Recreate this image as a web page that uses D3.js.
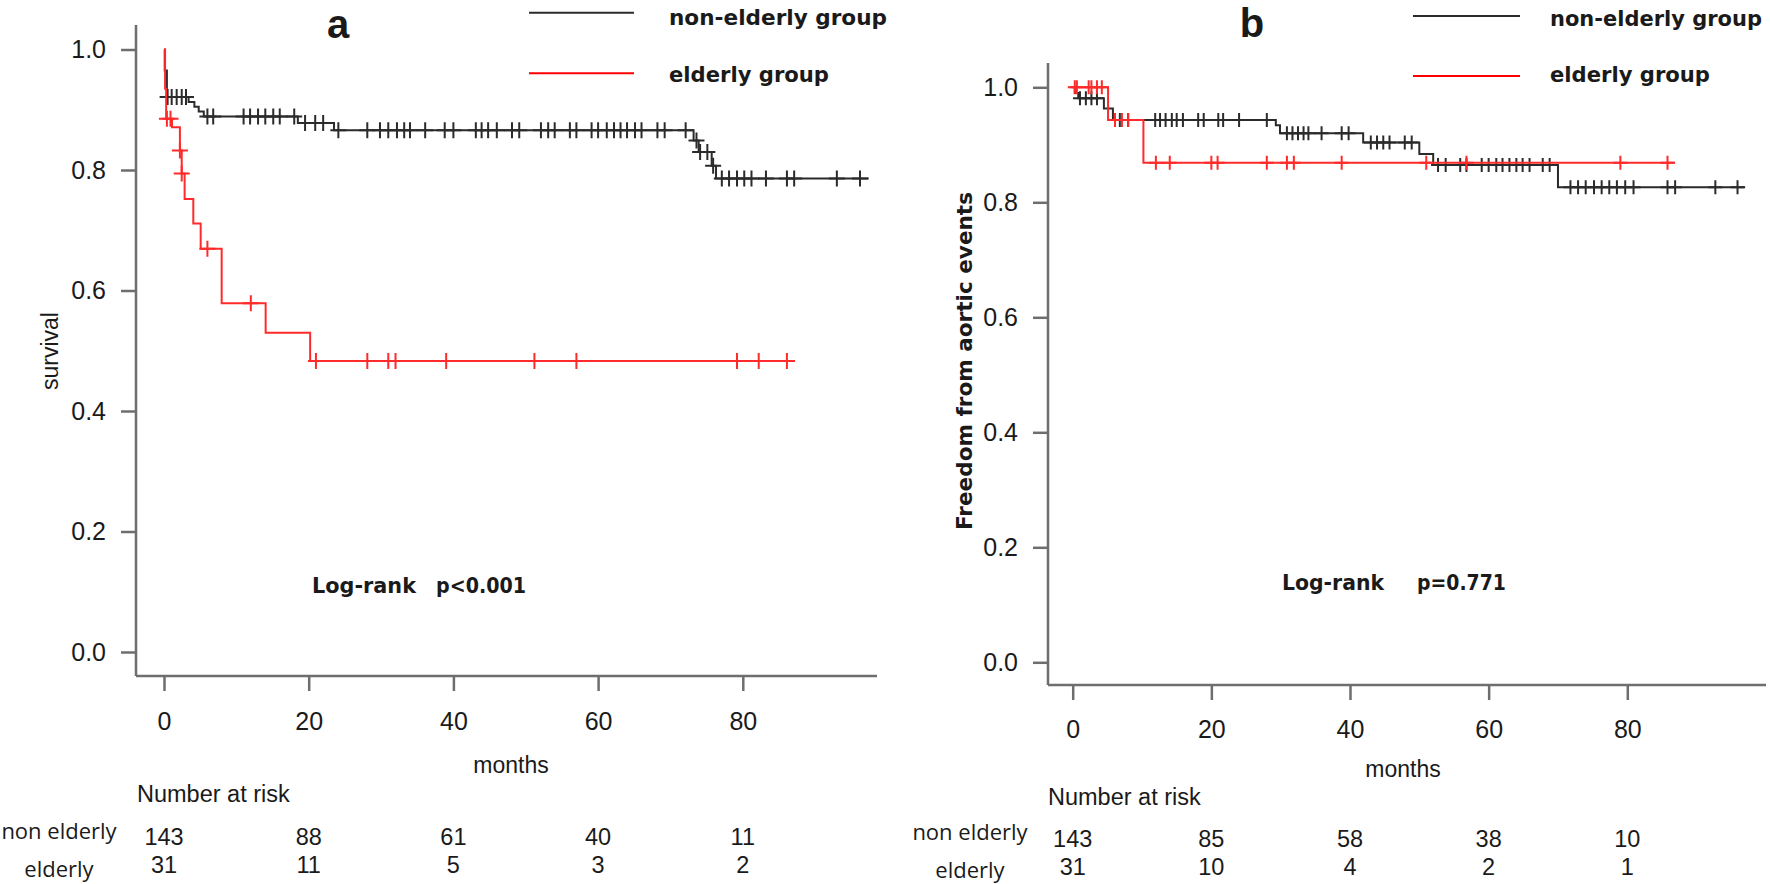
<!DOCTYPE html>
<html>
<head>
<meta charset="utf-8">
<script src="https://cdn.jsdelivr.net/npm/d3@7"></script>
<style>
html, body { margin: 0; padding: 0; background: #fff; }
svg { display: block; }
text { font-family: "Liberation Sans", Arial, sans-serif; fill: #1a1a1a; }
.heavy { font-family: "DejaVu Sans", Verdana, sans-serif; font-weight: bold; }
.rowlab { font-family: "Open Sans", sans-serif; }
</style>
</head>
<body>
<div id="chart"></div>
<script>
// ---- data ----
var xTicks = [0, 20, 40, 60, 80];
var yTicks = [0, 0.2, 0.4, 0.6, 0.8, 1.0];
var riskTimes = [0, 20, 40, 60, 80];
var groupNames = ["non-elderly group", "elderly group"];
var rowNames = ["non elderly", "elderly"];

// panel a : survival
var aNonTimes = [0, 0.1, 0.4, 3.4, 4.2, 4.8, 5.5, 18.5, 23.5, 73.2, 73.9, 75.7, 76.3];
var aNonSurv  = [1.0, 0.965, 0.921, 0.913, 0.905, 0.897, 0.889, 0.878, 0.866, 0.849, 0.830, 0.807, 0.786];
var aNonCens  = [0.5, 1.06, 1.75, 2.45, 3.04, 6.0, 6.8, 11.0, 11.9, 13.0, 14.0, 15.1, 16.0, 18.0, 19.5,
                 20.9, 22.0, 24.1, 28.1, 29.85, 31.0, 32.2, 33.2, 34.0, 36.1, 38.8, 40.0, 43.1, 43.9,
                 44.8, 46.0, 48.1, 49.1, 52.1, 53.1, 54.0, 56.1, 57.0, 59.1, 60.0, 61.2, 62.2, 63.1,
                 64.0, 65.1, 66.0, 68.2, 69.2, 72.1, 73.6, 74.1, 75.1, 75.9, 77.1, 78.1, 79.2, 80.2,
                 81.2, 83.2, 86.1, 87.1, 93.0, 96.2];
var aNonEnd = 97.4;

var aEldTimes = [0, 0.15, 0.3, 1.1, 2.2, 2.45, 2.85, 4.05, 5.07, 7.97, 14.05, 20.2];
var aEldSurv  = [1.0, 0.935, 0.885, 0.871, 0.8325, 0.794, 0.752, 0.711, 0.6695, 0.579, 0.530, 0.483];
var aEldCens  = [0.4, 0.9, 2.2, 2.45, 6.0, 12.0, 21.0, 28.1, 31.0, 32.0, 39.0, 51.2, 57.0, 79.2, 82.2, 86.1];
var aEldEnd = 87.2;

var aRiskNon = [143, 88, 61, 40, 11];
var aRiskEld = [31, 11, 5, 3, 2];

// panel b : freedom from aortic events
var bNonTimes = [0, 0.3, 0.8, 4.5, 5.8, 29.3, 29.9, 41.9, 50.0, 52.0, 70.0];
var bNonSurv  = [1.0, 0.99, 0.981, 0.963, 0.943, 0.934, 0.920, 0.904, 0.884, 0.865, 0.826];
var bNonCens  = [1.05, 1.9, 2.7, 3.5, 6.8, 8.0, 11.9, 12.6, 13.4, 14.3, 15.0, 15.9, 18.1, 18.9, 21.0,
                 21.7, 24.0, 28.0, 30.9, 31.7, 32.5, 33.3, 34.0, 35.9, 38.8, 39.8, 43.0, 43.9, 44.8,
                 45.7, 47.9, 48.9, 52.7, 53.8, 55.9, 56.8, 59.0, 60.0, 61.1, 62.0, 63.0, 64.0, 64.9,
                 65.9, 67.8, 68.8, 71.8, 72.9, 74.0, 75.2, 76.3, 77.4, 78.5, 79.7, 80.9, 85.8, 86.9,
                 92.7, 95.9];
var bNonEnd = 97.0;

var bEldTimes = [0, 5.1, 10.2];
var bEldSurv  = [1.0, 0.943, 0.869];
var bEldCens  = [0.3, 0.6, 2.3, 2.7, 3.5, 4.2, 6.1, 7.1, 8.0, 12.0, 14.0, 20.0, 20.9, 28.0, 30.9,
                 31.9, 38.8, 51.0, 56.8, 79.0, 85.8];
var bEldEnd = 86.9;

var bRiskNon = [143, 85, 58, 38, 10];
var bRiskEld = [31, 10, 4, 2, 1];

// ---- drawing ----
var W = 1770, H = 884;
var svg = d3.select("#chart").append("svg").attr("width", W).attr("height", H);

var axisColor = "#6e6e6e", blackCol = "#2b2b2b", redCol = "#ff2a2a";

function levelAt(times, surv, t) {
    var i = d3.bisectRight(times, t) - 1;
    return surv[Math.max(i, 0)];
}

function drawPanel(p) {
    var g = svg.append("g");
    var x = p.x, y = p.y;

    // axis lines
    g.append("line").attr("x1", p.axX).attr("x2", p.axX).attr("y1", p.axTop).attr("y2", p.axY)
        .attr("stroke", axisColor).attr("stroke-width", 2.5);
    g.append("line").attr("x1", p.axX).attr("x2", p.axRight).attr("y1", p.axY).attr("y2", p.axY)
        .attr("stroke", axisColor).attr("stroke-width", 2.5);

    var yAxis = g.append("g").attr("transform", "translate(" + p.axX + ",0)")
        .call(d3.axisLeft(y).tickValues(yTicks).tickFormat(d3.format(".1f")).tickSize(15).tickPadding(15));
    yAxis.select(".domain").remove();
    yAxis.attr("font-size", null).attr("font-family", null);
    yAxis.selectAll("line").attr("stroke", axisColor).attr("stroke-width", 2.5);
    yAxis.selectAll("text").style("font-size", "25px").attr("fill", "#1a1a1a");

    var xAxis = g.append("g").attr("transform", "translate(0," + p.axY + ")")
        .call(d3.axisBottom(x).tickValues(xTicks).tickSize(15));
    xAxis.select(".domain").remove();
    xAxis.attr("font-size", null).attr("font-family", null);
    xAxis.selectAll("line").attr("stroke", axisColor).attr("stroke-width", 2.5);
    xAxis.selectAll("text").attr("y", p.xLabDy).attr("dy", 0)
        .style("font-size", "25px").attr("fill", "#1a1a1a");

    // curves
    var line = d3.line().curve(d3.curveStepAfter).x(d => x(d[0])).y(d => y(d[1]));
    p.series.forEach(function (s) {
        var pts = s.times.map((t, i) => [t, s.surv[i]]);
        pts.push([s.end, s.surv[s.surv.length - 1]]);
        g.append("path").datum(pts).attr("d", line)
            .attr("fill", "none").attr("stroke", s.color).attr("stroke-width", 2);
        g.append("g").selectAll("path").data(s.cens).enter().append("path")
            .attr("d", function (t) {
                var cx = x(t), cy = y(levelAt(s.times, s.surv, t)), h = p.mark;
                return "M" + (cx - h) + "," + cy + "H" + (cx + h) + "M" + cx + "," + (cy - h) + "V" + (cy + h);
            })
            .attr("fill", "none").attr("stroke", s.color).attr("stroke-width", 2);
    });

    // titles
    g.append("text").attr("x", p.letterX).attr("y", p.letterY).attr("text-anchor", "middle")
        .style("font-size", "40px").style("font-weight", "bold").text(p.letter);

    var yt = g.append("text").attr("transform", "translate(" + p.yTitleX + "," + p.yTitleY + ") rotate(-90)")
        .attr("text-anchor", "middle").text(p.yTitle);
    if (p.yTitleBold) {
        yt.attr("class", "heavy").style("font-size", "21.5px")
            .attr("textLength", p.yTitleLen).attr("lengthAdjust", "spacingAndGlyphs");
    } else {
        yt.style("font-size", "23px");
    }

    g.append("text").attr("x", p.monthsX).attr("y", p.monthsY).attr("text-anchor", "middle")
        .style("font-size", "23px").text("months");

    // legend
    var legCols = [blackCol, "#ff0000"];
    groupNames.forEach(function (name, i) {
        g.append("line").attr("x1", p.legLineX[0]).attr("x2", p.legLineX[1])
            .attr("y1", p.legLineY[i]).attr("y2", p.legLineY[i])
            .attr("stroke", legCols[i]).attr("stroke-width", 2);
        g.append("text").attr("class", "heavy").attr("x", p.legTextX).attr("y", p.legTextY[i])
            .style("font-size", "21px").attr("textLength", p.legTextLen[i])
            .attr("lengthAdjust", "spacingAndGlyphs").text(name);
    });

    // log-rank
    g.append("text").attr("class", "heavy").attr("x", p.lrX[0]).attr("y", p.lrY)
        .style("font-size", "22px").attr("textLength", p.lrLen[0])
        .attr("lengthAdjust", "spacingAndGlyphs").text("Log-rank");
    g.append("text").attr("class", "heavy").attr("x", p.lrX[1]).attr("y", p.lrY)
        .style("font-size", "22px").attr("textLength", p.lrLen[1])
        .attr("lengthAdjust", "spacingAndGlyphs").text(p.pText);

    // number at risk table
    g.append("text").attr("x", p.nrX).attr("y", p.nrY).style("font-size", "23.5px").text("Number at risk");
    [p.riskNon, p.riskEld].forEach(function (row, r) {
        g.append("text").attr("class", "rowlab").attr("x", p.rowLabX).attr("y", p.rowLabY[r])
            .attr("text-anchor", "middle").style("font-size", "22px").text(rowNames[r]);
        g.append("g").selectAll("text").data(row).enter().append("text")
            .attr("x", (d, i) => x(riskTimes[i])).attr("y", p.rowY[r])
            .attr("text-anchor", "middle").style("font-size", "23.5px").text(d => d);
    });
}

drawPanel({
    letter: "a", letterX: 338, letterY: 38,
    x: d3.scaleLinear().domain([0, 80]).range([164, 742.8]),
    y: d3.scaleLinear().domain([0, 1]).range([652, 49.5]),
    axX: 136, axY: 676, axTop: 25, axRight: 877, xLabDy: 54, mark: 8,
    yTitle: "survival", yTitleBold: false, yTitleX: 58, yTitleY: 351,
    monthsX: 511, monthsY: 773,
    legLineX: [529, 634], legLineY: [12.7, 73.3], legTextX: 669, legTextY: [25, 81.7], legTextLen: [218, 160],
    lrX: [312, 436], lrLen: [104, 90], lrY: 593, pText: "p<0.001",
    nrX: 137, nrY: 801.7, rowLabX: 59, rowLabY: [839, 877], rowY: [845, 873],
    riskNon: aRiskNon, riskEld: aRiskEld,
    series: [
        {times: aNonTimes, surv: aNonSurv, cens: aNonCens, end: aNonEnd, color: blackCol},
        {times: aEldTimes, surv: aEldSurv, cens: aEldCens, end: aEldEnd, color: redCol}
    ]
});

drawPanel({
    letter: "b", letterX: 1252, letterY: 37,
    x: d3.scaleLinear().domain([0, 80]).range([1072.7, 1627.3]),
    y: d3.scaleLinear().domain([0, 1]).range([662.3, 87.3]),
    axX: 1048, axY: 685, axTop: 63, axRight: 1766, xLabDy: 53, mark: 7,
    yTitle: "Freedom from aortic events", yTitleBold: true, yTitleX: 972, yTitleY: 361, yTitleLen: 338,
    monthsX: 1403, monthsY: 777,
    legLineX: [1413, 1520], legLineY: [16, 76], legTextX: 1550, legTextY: [26, 81.7], legTextLen: [212, 160],
    lrX: [1282, 1417], lrLen: [102, 89], lrY: 590, pText: "p=0.771",
    nrX: 1048, nrY: 805, rowLabX: 970, rowLabY: [840, 878], rowY: [846.7, 875],
    riskNon: bRiskNon, riskEld: bRiskEld,
    series: [
        {times: bNonTimes, surv: bNonSurv, cens: bNonCens, end: bNonEnd, color: blackCol},
        {times: bEldTimes, surv: bEldSurv, cens: bEldCens, end: bEldEnd, color: redCol}
    ]
});
</script>
</body>
</html>
